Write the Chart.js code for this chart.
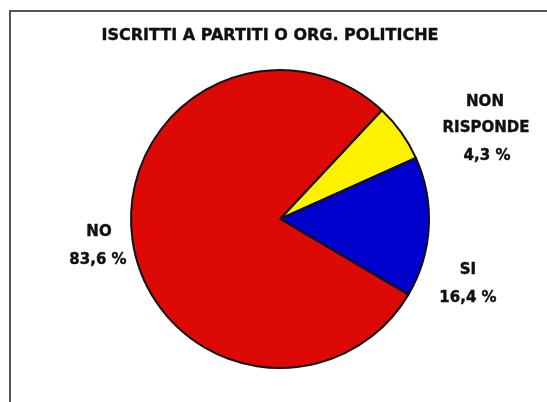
<!DOCTYPE html>
<html>
<head>
<meta charset="utf-8">
<script src="https://cdn.jsdelivr.net/npm/chart.js@4"></script>
<style>
html,body{margin:0;padding:0;background:#fff;}
#c{display:block;}
</style>
</head>
<body>
<canvas id="c" width="547" height="402"></canvas>
<script>
// Categories (clockwise from the yellow slice's leading edge)
const categories = ["NON RISPONDE", "SI", "NO"];
// Slice sizes (share of the circle, %)
const sliceValues = [6.3, 15.2, 78.5];
// Printed percentage labels
const percentLabels = ["4,3 %", "16,4 %", "83,6 %"];
const sliceColors = ["#FFF200", "#0000CC", "#DD0905"];
const titleText = "ISCRITTI A PARTITI O ORG. POLITICHE";

const textPlugin = {
  id: 'texts',
  beforeDraw(chart) {
    const ctx = chart.ctx;
    ctx.save();
    ctx.fillStyle = '#fff';
    ctx.fillRect(0, 0, chart.width, chart.height);
    ctx.strokeStyle = '#555';
    ctx.lineWidth = 2;
    ctx.strokeRect(10, 11, 600, 500);
    ctx.restore();
  },
  afterDraw(chart) {
    const ctx = chart.ctx;
    ctx.save();
    ctx.fillStyle = '#111';
    ctx.strokeStyle = '#111';
    ctx.lineWidth = 0.4;
    ctx.textAlign = 'center';
    ctx.textBaseline = 'middle';
    const put = (t, x, y, w) => { ctx.fillText(t, x, y, w); ctx.strokeText(t, x, y, w); };
    ctx.font = 'bold 16px "DejaVu Sans"';
    put(titleText, 270, 36, 343);
    ctx.font = 'bold 15px "DejaVu Sans"';
    // NON RISPONDE
    put("NON", 485, 102, 40);
    put("RISPONDE", 486, 128, 93);
    put(percentLabels[0], 487, 156, 56);
    // SI
    put("SI", 468, 270, 22);
    put(percentLabels[1], 468, 298, 62);
    // NO
    put("NO", 99, 232, 30);
    put(percentLabels[2], 98, 260, 62);
    ctx.restore();
  }
};

new Chart(document.getElementById('c'), {
  type: 'pie',
  data: {
    labels: categories,
    datasets: [{
      data: sliceValues,
      backgroundColor: sliceColors,
      borderColor: '#111',
      borderWidth: 2,
      borderAlign: 'center'
    }]
  },
  options: {
    responsive: false,
    animation: false,
    rotation: 43.1,
    layout: { padding: { left: 130, right: 117, top: 69, bottom: 33 } },
    plugins: {
      legend: { display: false },
      tooltip: { enabled: false },
      title: { display: false }
    }
  },
  plugins: [textPlugin]
});
</script>
</body>
</html>
